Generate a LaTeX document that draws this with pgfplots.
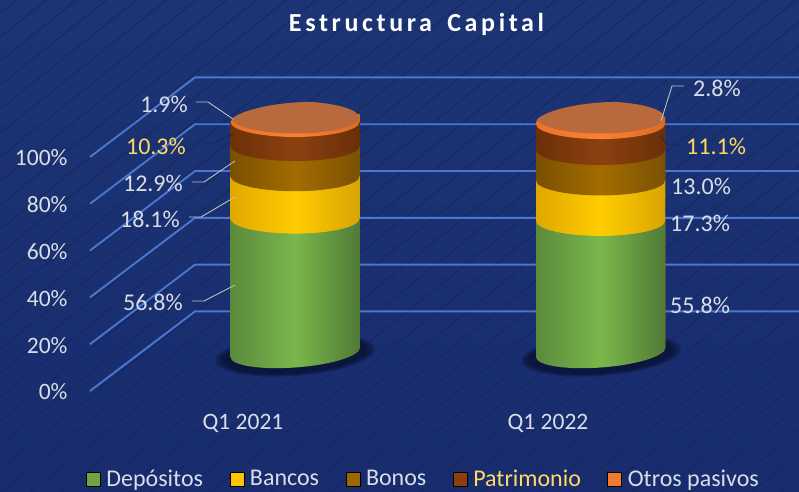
\documentclass[border=0pt]{standalone}
\usepackage{pgfplots}
\pgfplotsset{compat=1.18}
\usepackage{fontspec}
\setmainfont{Carlito}
\newfontfamily\titlefont[LetterSpace=14,WordSpace=1.6]{Carlito}
\definecolor{bgT}{HTML}{1C3474}
\definecolor{bgB}{HTML}{182C6E}
\definecolor{stripec}{HTML}{152660}
\definecolor{gridb}{HTML}{4A78D0}
\definecolor{txt}{HTML}{D9DEE6}
\definecolor{yel}{HTML}{FFD966}
\definecolor{leaderc}{HTML}{BFBFBF}
\definecolor{shadowc}{HTML}{070D2A}
\definecolor{gE}{HTML}{5B8A3C}\definecolor{gM}{HTML}{7AB74A}\definecolor{gF}{HTML}{517A37}
\definecolor{oE}{HTML}{E0A800}\definecolor{oM}{HTML}{FFCC00}\definecolor{oF}{HTML}{D9A404}
\definecolor{bE}{HTML}{7A5000}\definecolor{bM}{HTML}{A36C00}\definecolor{bF}{HTML}{7A5204}
\definecolor{rE}{HTML}{6C3008}\definecolor{rM}{HTML}{8C4010}\definecolor{rF}{HTML}{6A2F08}
\definecolor{cE}{HTML}{E8722A}\definecolor{cM}{HTML}{FF8030}\definecolor{cF}{HTML}{D96A26}
\definecolor{capc}{HTML}{B96A3C}
\tikzset{
 cylG/.style={left color=gE,right color=gF,middle color=gM},
 cylO/.style={left color=oE,right color=oF,middle color=oM},
 cylB/.style={left color=bE,right color=bF,middle color=bM},
 cylR/.style={left color=rE,right color=rF,middle color=rM},
 cylC/.style={left color=cE,right color=cF,middle color=cM},
 lead/.style={draw=leaderc,line width=.9pt},
 dlead/.style={draw=stripec,line width=.8pt},
 lab/.style={font=\fontsize{24}{26}\selectfont,text=txt,inner sep=0pt},
}
\pgfplotsset{cylbar/.style={ybar,bar shift=0pt,bar width=129pt,draw=none,#1}}
% boundary between two stacked parts: the part above bulges over the part below
\newcommand\boundary[3]{\pgfdeclareplotmark{#1}{%
  \begin{scope}[x=1pt,y=1pt,draw=none]
  \shade[draw=none,#2] (-64.5,-24) rectangle (64.5,7);
  \begin{scope}
  \path[draw=none,clip,yslant=.07] (-64.5,0) arc[start angle=180,end angle=360,x radius=64.5,y radius=15] -- (64.5,40) -- (-64.5,40) -- cycle;
  \shade[draw=none,#3] (-64.5,-24) rectangle (64.5,7);
  \end{scope}
  \end{scope}}}
\boundary{bndC}{cylR}{cylC}
\boundary{bndR}{cylB}{cylR}
\boundary{bndB}{cylO}{cylB}
\boundary{bndO}{cylG}{cylO}
\pgfdeclareplotmark{baseG}{\begin{scope}[x=1pt,y=1pt]\shade[draw=none,cylG] (-64.5,-30) rectangle (64.5,7);\end{scope}}
\pgfdeclareplotmark{capC}{\begin{scope}[x=1pt,y=1pt]\fill[draw=none,capc,yslant=.07] (0,0) ellipse[x radius=64,y radius=16];\end{scope}}

\begin{document}
\begin{tikzpicture}[x=1pt,y=1pt]
\useasboundingbox (0,0) rectangle (799,491);
\shade[top color=bgT,bottom color=bgB] (0,0) rectangle (799,491);
\begin{scope}
\clip (0,0) rectangle (799,491);
\foreach \c in {-650,-626,...,500}{\draw[stripec,line width=.7pt] (0,\c) -- (799,\c+639);}
\end{scope}

% front plane: value axis, category labels, gridlines, legend
\begin{axis}[at={(90pt,100pt)},anchor=south west,scale only axis,width=709pt,height=234pt,
  xmin=90,xmax=799,ymin=0,ymax=100,clip=false,
  axis line style={draw=none},major tick length=0pt,
  ytick={0,20,40,60,80,100},yticklabels={0\%,20\%,40\%,60\%,80\%,100\%},
  xtick={243,548},xticklabels={Q1 2021,Q1 2022},
  yticklabel style={font=\fontsize{23.5}{26}\selectfont,text=txt,xshift=-19pt,yshift=-1pt},
  xticklabel style={font=\fontsize{23.5}{26}\selectfont,text=txt,yshift=-20pt},
  legend columns=5,
  legend style={at={(axis description cs:-0.006,-0.376)},anchor=west,draw=none,fill=none,inner sep=0pt,
    font=\fontsize{24}{26}\selectfont,text=txt,
    /tikz/every even column/.append style={column sep=24.5pt},
    /tikz/every odd column/.append style={column sep=4pt}},
  legend image code/.code={\fill[#1] (0pt,-7pt) rectangle (14pt,7pt);},
]
\addlegendimage{fill=gM!90!black}\addlegendentry{Depósitos}
\addlegendimage{fill=oM!90!orange}\addlegendentry{Bancos}
\addlegendimage{fill=bM!95!black}\addlegendentry{Bonos}
\addlegendimage{fill=rM}\addlegendentry{\textcolor{yel}{Patrimonio}}
\addlegendimage{fill=cM!95!black}\addlegendentry{Otros pasivos}
\addplot[gridb,line width=1.9pt,forget plot] coordinates {(90,0) (195,34) (799,34)};
\addplot[gridb,line width=1.9pt,forget plot] coordinates {(90,20) (195,54) (799,54)};
\addplot[gridb,line width=1.9pt,forget plot] coordinates {(90,40) (195,74) (799,74)};
\addplot[gridb,line width=1.9pt,forget plot] coordinates {(90,60) (195,94) (799,94)};
\addplot[gridb,line width=1.9pt,forget plot] coordinates {(90,80) (195,114) (799,114)};
\addplot[gridb,line width=1.9pt,forget plot] coordinates {(90,100) (195,134) (799,134)};
\end{axis}

% shadows under the cylinders
\foreach \cx in {295,601}{
 \foreach \r/\s in {80/21,77.5/20,75/19,72/18}{
  \fill[shadowc,opacity=.25,yslant=.07] (\cx,{136-.07*\cx}) ellipse[x radius=\r,y radius=\s];
 }
}

% cylinders: clipped to their outline
\begin{scope}
\clip[yslant=.07]
 (230.5,117.85) arc[start angle=180,end angle=360,x radius=64.5,y radius=15] -- ++(0,234) arc[start angle=0,end angle=180,x radius=64.5,y radius=16] -- cycle
 (536,96.45) arc[start angle=180,end angle=360,x radius=64.5,y radius=15] -- ++(0,234) arc[start angle=0,end angle=180,x radius=64.5,y radius=16] -- cycle;
\begin{axis}[at={(0pt,0pt)},anchor=south west,scale only axis,width=799pt,height=491pt,
  xmin=0,xmax=799,ymin=-59.62,ymax=150.21,hide axis]
\addplot[cylbar=cylC] coordinates {(295,100)};
\addplot[cylbar=cylC] coordinates {(600.5,100)};
\addplot[cylbar=cylR] coordinates {(295,98.1)};
\addplot[cylbar=cylR] coordinates {(600.5,97.2)};
\addplot[only marks,mark=bndC] coordinates {(295,98.1) (600.5,97.2)};
\addplot[only marks,mark=capC] coordinates {(295,100) (600.5,100)};
\addplot[cylbar=cylB] coordinates {(295,87.8)};
\addplot[cylbar=cylB] coordinates {(600.5,86.1)};
\addplot[only marks,mark=bndR] coordinates {(295,87.8) (600.5,86.1)};
\addplot[cylbar=cylO] coordinates {(295,74.9)};
\addplot[cylbar=cylO] coordinates {(600.5,73.1)};
\addplot[only marks,mark=bndB] coordinates {(295,74.9) (600.5,73.1)};
\addplot[cylbar=cylG] coordinates {(295,56.8)};
\addplot[cylbar=cylG] coordinates {(600.5,55.8)};
\addplot[only marks,mark=bndO] coordinates {(295,56.8) (600.5,55.8)};
\addplot[only marks,mark=baseG] coordinates {(295,0) (600.5,0)};
\end{axis}
\end{scope}

% title
\node[text=white,font=\fontsize{26}{28}\selectfont\bfseries\titlefont,inner sep=0pt] at (416.5,467) {Estructura Capital};

% data labels and leaders
\node[lab,anchor=east] at (188,387) {1.9\%};
\node[lab,anchor=east,text=yel] at (186,345) {10.3\%};
\node[lab,anchor=east] at (183,308) {12.9\%};
\node[lab,anchor=east] at (180,272) {18.1\%};
\node[lab,anchor=east] at (183,189) {56.8\%};
\node[lab,anchor=west] at (693,403) {2.8\%};
\node[lab,anchor=west,text=yel] at (686,345) {11.1\%};
\node[lab,anchor=west] at (671,305) {13.0\%};
\node[lab,anchor=west] at (670,268) {17.3\%};
\node[lab,anchor=west] at (670,186) {55.8\%};
\draw[lead] (196,389) -- (208,389) -- (233,372);
\draw[lead] (192,309) -- (204,309) -- (235,330);
\draw[lead] (189,274) -- (201,274) -- (235,294);
\draw[lead] (192,190) -- (204,190) -- (235,206);
\draw[lead] (684,405) -- (672,405) -- (661,370);
\draw[dlead] (200,347) -- (212,347) -- (233,357);
\draw[dlead] (680,346) -- (668,346) -- (661,354);
\end{tikzpicture}
\end{document}
